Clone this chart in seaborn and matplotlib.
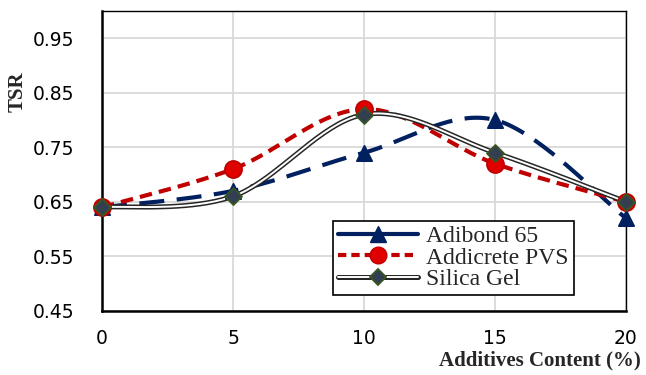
import numpy as np
import pandas as pd
import matplotlib
matplotlib.use("Agg")
import matplotlib.pyplot as plt
import seaborn as sns
from matplotlib.lines import Line2D

# Additive content (%) and tensile strength ratio per additive
content = [0, 5, 10, 15, 20]
adibond = [0.64, 0.67, 0.74, 0.80, 0.62]
addicrete = [0.64, 0.71, 0.82, 0.72, 0.65]
silica = [0.64, 0.66, 0.81, 0.74, 0.65]
series_names = ["Adibond 65", "Addicrete PVS", "Silica Gel"]
y_ticks = [0.45, 0.55, 0.65, 0.75, 0.85, 0.95]
x_ticks = [0, 5, 10, 15, 20]

df = pd.DataFrame({
    "content": content * 3,
    "TSR": adibond + addicrete + silica,
    "series": [series_names[0]] * 5 + [series_names[1]] * 5 + [series_names[2]] * 5,
})


def smooth(x, y, n=40):
    """Cubic Bezier path through the points (spreadsheet-style smoothed line)."""
    x = np.asarray(x, float)
    y = np.asarray(y, float)
    px = np.concatenate([[x[0]], x, [x[-1]]])
    py = np.concatenate([[y[0]], y, [y[-1]]])
    t = np.linspace(0, 1, n)[:, None]
    xs, ys = [], []
    for i in range(1, len(px) - 2):
        p0 = np.array([px[i], py[i]])
        p3 = np.array([px[i + 1], py[i + 1]])
        c1 = p0 + (np.array([px[i + 1], py[i + 1]]) - np.array([px[i - 1], py[i - 1]])) / 6
        c2 = p3 - (np.array([px[i + 2], py[i + 2]]) - np.array([px[i], py[i]])) / 6
        b = ((1 - t) ** 3) * p0 + 3 * ((1 - t) ** 2) * t * c1 + 3 * (1 - t) * t ** 2 * c2 + t ** 3 * p3
        xs.append(b[:, 0])
        ys.append(b[:, 1])
    return np.concatenate(xs), np.concatenate(ys)


sns.set_theme(style="white")
plt.rcParams["font.family"] = ["DejaVu Sans"]

fig = plt.figure(figsize=(6.46, 3.75), dpi=100)
ax = fig.add_axes([0.158, 0.171, 0.811, 0.80])

navy = "#002060"
red = "#C00000"
adi_dash = (6, 3)
pvs_dash = (3, 1.7)

# smoothed connecting lines
sx, sy = smooth(content, adibond)
ax.plot(sx, sy, color=navy, lw=3, dashes=adi_dash, zorder=3)
sx, sy = smooth(content, addicrete)
ax.plot(sx, sy, color=red, lw=3, dashes=pvs_dash, zorder=3)
sx, sy = smooth(content, silica)
ax.plot(sx, sy, color="#262626", lw=3.6, zorder=3, solid_capstyle="butt")
ax.plot(sx, sy, color="white", lw=1.4, zorder=3.1, solid_capstyle="butt")

# markers
styles = {
    "Adibond 65": dict(marker="^", color=navy, edgecolor=navy, s=120),
    "Addicrete PVS": dict(marker="o", color="#E00000", edgecolor=red, s=150),
    "Silica Gel": dict(marker="D", color="#333F50", edgecolor="#375623", s=75),
}
for name in series_names:
    st = styles[name]
    sub = df[df["series"] == name]
    sns.scatterplot(data=sub, x="content", y="TSR", ax=ax, marker=st["marker"],
                    color=st["color"], edgecolor=st["edgecolor"], linewidth=1.3,
                    s=st["s"], zorder=4, legend=False, clip_on=False)

ax.set_xlim(0, 20)
ax.set_ylim(0.45, 1.0)
ax.set_xticks(x_ticks)
ax.set_yticks(y_ticks)
ax.set_xticklabels([str(v) for v in x_ticks])
ax.set_yticklabels([f"{v:.2f}" for v in y_ticks])
ax.tick_params(axis="both", length=0, labelsize=13.5, colors="black")
ax.tick_params(axis="x", pad=13)
ax.tick_params(axis="y", pad=20)
ax.grid(True, color="#D9D9D9", lw=1.3)
ax.set_axisbelow(True)
for side, sp in ax.spines.items():
    sp.set_color("black")
    sp.set_linewidth(1.8 if side in ("left", "bottom") else 1.0)
ax.set_xlabel("")
ax.set_ylabel("")

fig.text(0.992, 0.012, "Additives Content (%)", ha="right", va="bottom",
         family="Liberation Serif", weight="bold", fontsize=15)
fig.text(0.028, 0.755, "TSR", rotation=90, ha="center", va="center",
         family="Liberation Serif", weight="bold", fontsize=15)

# legend
h1 = Line2D([], [], color=navy, lw=3, marker="^", markersize=11, markerfacecolor=navy,
            markeredgecolor=navy)
h2 = Line2D([], [], color=red, lw=3, dashes=(2, 1.2), marker="o", markersize=12,
            markerfacecolor="#E00000", markeredgecolor=red)
h3_outer = Line2D([], [], color="#262626", lw=3.6)
h3_inner = Line2D([], [], color="white", lw=1.4)
h3_mark = Line2D([], [], ls="none", marker="D", markersize=8.5,
                 markerfacecolor="#333F50", markeredgecolor="#375623", markeredgewidth=1.3)
leg = ax.legend([h1, h2, (h3_outer, h3_inner, h3_mark)], series_names, loc="lower left",
                bbox_to_anchor=(0.441, 0.053), borderaxespad=0, frameon=True,
                fancybox=False, edgecolor="black", framealpha=1,
                prop={"family": "Liberation Serif", "size": 17},
                handlelength=3.4, handletextpad=0.35, labelspacing=0.0,
                borderpad=0.2)
leg.get_frame().set_linewidth(1.2)

fig.savefig("out.png", dpi=100)
